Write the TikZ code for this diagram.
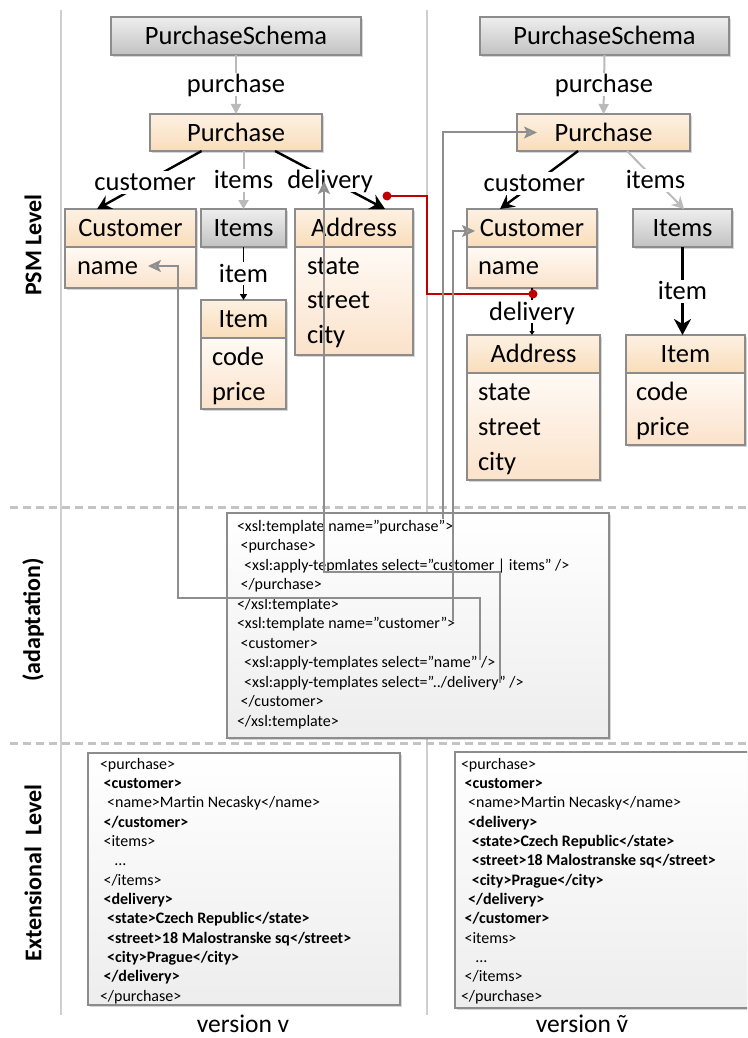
\documentclass[tikz,border=0pt]{standalone}
\usepackage{fontspec}
\setmainfont{Carlito}
\usetikzlibrary{arrows.meta,shadows,calc}
\definecolor{bordergray}{HTML}{8C8C8C}
\definecolor{sepgray}{HTML}{CFCFCF}
\definecolor{dashgray}{HTML}{C4C4C4}
\definecolor{linkgray}{HTML}{BABABA}
\definecolor{mapgray}{HTML}{8E8E8E}
\definecolor{peachtop}{HTML}{FDF1E2}
\definecolor{peachbot}{HTML}{F9DDBB}
\definecolor{bodytop}{HTML}{FFFAF5}
\definecolor{bodybot}{HTML}{FBE2CA}
\definecolor{graytop}{HTML}{EEEEEE}
\definecolor{graybot}{HTML}{C2C2C2}
\definecolor{redline}{HTML}{C00000}
\newcommand\psmfont{\fontsize{26.5}{29}\selectfont}
\newcommand\codefont{\fontsize{16}{19}\selectfont}
\newcommand\xind{\hspace*{3.6pt}}
\newcommand\tdots{...}
\newcommand\updir{../}
\tikzset{
  every node/.style={inner sep=0pt, outer sep=0pt},
  shad/.style={drop shadow={shadow xshift=2pt, shadow yshift=-2pt, fill=black, opacity=0.16}},
  graybox/.style={draw=bordergray, line width=1.1pt, top color=graytop, bottom color=graybot, shad,
    font=\psmfont, text height=20pt, text depth=3pt},
  headbox/.style={draw=bordergray, line width=1.1pt, top color=peachtop, bottom color=peachbot, shad,
    font=\psmfont, text height=20pt, text depth=3pt},
  bodybox/.style={draw=bordergray, line width=1.1pt, top color=bodytop, bottom color=bodybot, shad},
  attr/.style={anchor=west, font=\psmfont, text height=19pt, text depth=3pt},
  lbl/.style={fill=white, font=\psmfont, text height=20pt, text depth=3pt, inner xsep=1pt, inner ysep=0pt},
  lgray/.style={draw=linkgray, line width=2pt},
  assoc/.style={draw=black, line width=2.4pt},
  codebox/.style={draw=bordergray, line width=1.1pt, top color=white, bottom color=black!7, shad},
  codeln/.style={anchor=base west, font=\codefont},
  mapline/.style={draw=mapgray, line width=2pt, -{Stealth[length=13pt,width=12pt,inset=3pt,fill=mapgray!85]}},
  rowlbl/.style={rotate=90, font=\fontsize{24}{26}\selectfont\bfseries},
  verlbl/.style={font=\fontsize{25.5}{28}\selectfont},
}
\begin{document}
\begin{tikzpicture}[x=1pt,y=-1pt]
\useasboundingbox (0,0) rectangle (747,1038);
\fill[white] (0,0) rectangle (747,1038);
\clip (0,0) rectangle (747,1038);

% separators
\draw[sepgray, line width=2pt] (61,10) -- (61,1015);
\draw[sepgray, line width=2pt] (427,10) -- (427,1015);
\draw[dashgray, line width=3pt, dash pattern=on 8pt off 5pt] (10,507) -- (747,507);
\draw[dashgray, line width=3pt, dash pattern=on 8pt off 5pt] (10,743) -- (747,743);

% row labels
\node[rowlbl] (psmlbl) at (33,245) {PSM Level};
\node[rowlbl] (adlbl) at (33,620) {(adaptation)};
\node[rowlbl] (extlbl) at (33,873) {Extensional~ Level};

% ---------- left PSM ----------
\node[graybox, minimum width=250, minimum height=38] (ps1) at (236,36) {PurchaseSchema};
\node[headbox, minimum width=172, minimum height=37] (pur1) at (236,132.5) {Purchase};
\node[headbox, minimum width=131, minimum height=38] (cust1) at (130.5,228) {Customer};
\node[bodybox, minimum width=131, minimum height=41] (cust1b) at (130.5,267.5) {};
\node[attr] (cname1) at (77,266) {name};
\node[graybox, minimum width=85, minimum height=38] (items1) at (243.5,228) {Items};
\node[headbox, minimum width=85, minimum height=38] (item1) at (243.5,319) {Item};
\node[bodybox, minimum width=85, minimum height=71] (item1b) at (243.5,373.5) {};
\node[attr] (icode1) at (212,357) {code};
\node[attr] (iprice1) at (212,392) {price};
\node[headbox, minimum width=118, minimum height=38] (addr1) at (354,228) {Address};
\node[bodybox, minimum width=118, minimum height=108] (addr1b) at (354,301) {};
\node[attr] (astate1) at (307,266) {state};
\node[attr] (astreet1) at (307,300) {street};
\node[attr] (acity1) at (307,335) {city};

\draw[lgray, -{Triangle[length=10pt,width=10pt]}] (ps1.south) -- (pur1.north) node[lbl, midway] (plbl1) {purchase};
\draw[assoc, -{Stealth[length=14pt,width=15pt,inset=5pt]}] ($(pur1.south west)!0.30!(pur1.south east)$) -- ($(cust1.north west)!0.245!(cust1.north east)$) node[lbl, pos=0.54] (clbl1) {customer};
\draw[lgray, -{Triangle[length=9pt,width=10pt]}] (pur1.south -| items1.north) -- (items1.north) node[lbl, midway] (ilbl1) {items};
\draw[assoc, -{Stealth[length=15pt,width=16pt,inset=5pt]}] ($(pur1.south west)!0.727!(pur1.south east)$) -- ($(addr1.north west)!0.763!(addr1.north east)$) node[lbl, midway] (dlbl1) {delivery};
\draw[draw=black, line width=1.6pt, -{Triangle[length=6pt,width=7pt]}] (items1.south) -- (item1.north) node[lbl, midway] (itlbl1) {item};

% ---------- right PSM ----------
\node[graybox, minimum width=249, minimum height=38] (ps2) at (604.5,36) {PurchaseSchema};
\node[headbox, minimum width=173, minimum height=37] (pur2) at (603.5,132.5) {Purchase};
\node[headbox, minimum width=130, minimum height=38] (cust2) at (532,228) {Customer};
\node[bodybox, minimum width=130, minimum height=41] (cust2b) at (532,267.5) {};
\node[attr] (cname2) at (478,266) {name};
\node[graybox, minimum width=99, minimum height=38] (items2) at (682.5,228) {Items};
\node[headbox, minimum width=119, minimum height=38] (item2) at (685.5,354) {Item};
\node[bodybox, minimum width=119, minimum height=72] (item2b) at (685.5,409) {};
\node[attr] (icode2) at (636,392) {code};
\node[attr] (iprice2) at (636,427) {price};
\node[headbox, minimum width=133, minimum height=38] (addr2) at (533.5,354) {Address};
\node[bodybox, minimum width=133, minimum height=107] (addr2b) at (533.5,426.5) {};
\node[attr] (astate2) at (478,392) {state};
\node[attr] (astreet2) at (478,427) {street};
\node[attr] (acity2) at (478,462) {city};

\draw[lgray, -{Triangle[length=10pt,width=10pt]}] (ps2.south) -- (pur2.north) node[lbl, midway] (plbl2) {purchase};
\draw[assoc, -{Stealth[length=14pt,width=15pt,inset=5pt]}] ($(pur2.south west)!0.353!(pur2.south east)$) -- ($(cust2.north west)!0.254!(cust2.north east)$) node[lbl, pos=0.56] (clbl2) {customer};
\draw[lgray, -{Stealth[length=12pt,width=13pt,inset=4pt]}] ($(pur2.south west)!0.636!(pur2.south east)$) -- ($(items2.north west)!0.515!(items2.north east)$) node[lbl, midway] (ilbl2) {items};
\draw[draw=black, line width=1.2pt, -{Triangle[length=4pt,width=5pt]}] (cust2b.south) -- (cust2b.south |- addr2.north) node[lbl, midway] (dlbl2) {delivery};
\draw[draw=black, line width=3pt, -{Stealth[length=16pt,width=17pt,inset=5pt]}] (items2.south) -- (items2.south |- item2.north) node[lbl, midway] (itlbl2) {item};

% ---------- XSL box ----------
\node[codebox, minimum width=382, minimum height=225, anchor=north west] (xsl) at (227,513) {};
\foreach \t [count=\i from 0] in {
  {<xsl:template name=”purchase”>},
  {\xind<purchase>},
  {\xind\xind<xsl:apply-tepmlates select=”customer | items” />},
  {\xind</purchase>},
  {</xsl:template>},
  {<xsl:template name=”customer”>},
  {\xind<customer>},
  {\xind\xind<xsl:apply-templates select=”name” />},
  {\xind\xind<xsl:apply-templates select=”\updir delivery” />},
  {\xind</customer>},
  {</xsl:template>}}
  \node[codeln] (xl\i) at (237,{531+19.5*\i}) {\t};

% ---------- extensional boxes ----------
\node[codebox, minimum width=312, minimum height=252, anchor=north west] (ext1) at (88,753) {};
\foreach \t [count=\i from 0] in {
  {<purchase>},
  {\xind{\bfseries <customer>}},
  {\xind\xind<name>Martin Necasky</name>},
  {\xind{\bfseries </customer>}},
  {\xind<items>},
  {\xind\xind\xind\xind\tdots},
  {\xind</items>},
  {\xind{\bfseries <delivery>}},
  {\xind\xind{\bfseries <state>Czech Republic</state>}},
  {\xind\xind{\bfseries <street>18 Malostranske sq</street>}},
  {\xind\xind{\bfseries <city>Prague</city>}},
  {\xind{\bfseries </delivery>}},
  {</purchase>}}
  \node[codeln] (el\i) at (100,{769+19.35*\i}) {\t};

\node[codebox, minimum width=320, minimum height=256, anchor=north west] (ext2) at (455,752) {};
\foreach \t [count=\i from 0] in {
  {<purchase>},
  {\xind{\bfseries <customer>}},
  {\xind\xind<name>Martin Necasky</name>},
  {\xind\xind{\bfseries <delivery>}},
  {\xind\xind\xind{\bfseries <state>Czech Republic</state>}},
  {\xind\xind\xind{\bfseries <street>18 Malostranske sq</street>}},
  {\xind\xind\xind{\bfseries <city>Prague</city>}},
  {\xind\xind{\bfseries </delivery>}},
  {\xind{\bfseries </customer>}},
  {\xind<items>},
  {\xind\xind\xind\xind\tdots},
  {\xind</items>},
  {</purchase>}}
  \node[codeln] (er\i) at (461,{769+19.35*\i}) {\t};

% version labels
\node[verlbl] (verv) at (243,1024) {version v};
\node[verlbl] (vert) at (582,1024) {version ṽ};

% ---------- red connector ----------
\coordinate (rd1) at (387,196);
\coordinate (rd2) at ($(cust2b.south)+(1,6)$);
\draw[redline, line width=1.8pt] (rd1) -- ++(40,0) |- (rd2);
\fill[redline] (rd1) circle (4.5pt);
\fill[redline] (rd2) circle (4.5pt);

% ---------- mapping connectors ----------
\coordinate (m1) at (443,519);
\coordinate (m2) at (453,621);
\coordinate (m3) at (480,660);
\coordinate (m3a) at (178,598);
\coordinate (m4) at (500,683);
\coordinate (m4a) at (324,572);
\coordinate (m4t) at (324,181);
\draw[mapline] (m1) |- ($(pur2.west)+(20,0)$);
\draw[mapline] (m2) |- ($(cust2.west)+(8,3)$);
\draw[mapline] (m3) |- (m3a) |- ($(cname1.east)+(10,0)$);
\draw[mapline] (m4) |- (m4a) -- (m4t);
\end{tikzpicture}
\end{document}
